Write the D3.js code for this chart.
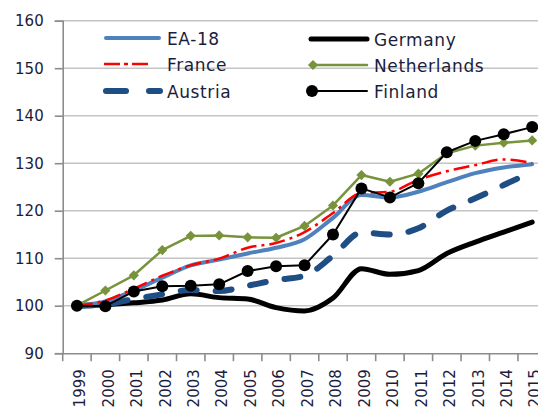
<!DOCTYPE html>
<head>
<style>
	body{
		margin: 0;
		background: white;
	}
	svg{
		display: block;
	}
</style>
</head>
<body>
<script src="https://cdn.jsdelivr.net/npm/d3@7/dist/d3.min.js" charset="utf-8"></script>
<svg width="538" height="412"></svg>
<script>
	var years = ["1999","2000","2001","2002","2003","2004","2005","2006","2007","2008","2009","2010","2011","2012","2013","2014","2015"];
	var yTicks = [90,100,110,120,130,140,150,160];

	var ea18 = [100,100.9,103.2,105.9,108.5,109.7,111,112.2,114,118.5,123.3,122.8,124,126,127.9,129.1,129.8];
	var france = [100,101.1,103.6,106.3,108.5,109.9,112.2,113.2,115.5,119.5,123.7,124,126.5,128.3,129.6,130.8,130];
	var austria = [100,100.3,101.4,102.4,103.3,103.1,104.2,105.4,106.3,110.5,115.4,115,116.3,120,122.6,125.4,128.2];
	var germany = [100,100.2,100.6,101.2,102.5,101.7,101.4,99.6,98.9,101.6,107.8,106.6,107.4,111,113.4,115.5,117.6];
	var netherlands = [100,103.2,106.4,111.7,114.7,114.8,114.4,114.3,116.8,121.1,127.5,126.1,127.8,132.1,133.7,134.3,134.8];
	var finland = [100,99.9,103,104.1,104.2,104.5,107.3,108.3,108.5,115,124.7,122.8,125.8,132.3,134.7,136.1,137.6];

	var svg = d3.select("svg");
	var x = d3.scaleBand().domain(years).range([62.7,546.4]);
	var y = d3.scaleLinear().domain([90,160]).range([353.2,20.7]);
	var cx = function(d,i){ return x(years[i]) + x.bandwidth()/2; };
	var txtCol = "#1c1c3c";

	// grid
	svg.append("g").selectAll("line").data(yTicks.slice(1)).enter().append("line")
		.attr("x1",62.7).attr("x2",538)
		.attr("y1",function(d){ return y(d); }).attr("y2",function(d){ return y(d); })
		.attr("stroke","#c4c4c4").attr("stroke-width",1.6);

	// y axis
	var yAxis = svg.append("g").attr("transform","translate(62.7,0)")
		.call(d3.axisLeft(y).tickValues(yTicks).tickSize(8).tickPadding(11));
	yAxis.select(".domain").attr("stroke","#8c8c8c").attr("stroke-width",1.6);
	yAxis.selectAll(".tick line").attr("stroke","#8c8c8c").attr("stroke-width",1.6);
	yAxis.selectAll("text").attr("fill",txtCol).style("font","15px 'DejaVu Sans'");

	// x axis
	var xAxis = svg.append("g").attr("transform","translate(0,353.2)")
		.call(d3.axisBottom(x).tickSize(0).tickPadding(0));
	xAxis.select(".domain").attr("stroke","#8c8c8c").attr("stroke-width",1.6);
	xAxis.selectAll("text")
		.attr("fill",txtCol).style("font","15px 'DejaVu Sans'")
		.attr("transform","rotate(-90)")
		.attr("x",-16).attr("y",3).attr("dy","0.35em")
		.style("text-anchor","end");
	xAxis.selectAll(".edge").data(years).enter().append("line")
		.attr("class","edge")
		.attr("x1",function(d){ return x(d); }).attr("x2",function(d){ return x(d); })
		.attr("y1",0).attr("y2",8)
		.attr("stroke","#8c8c8c").attr("stroke-width",1.6);

	function DrawLine(vals, col, w, dash, curve){
		var line = d3.line().x(cx).y(function(d){ return y(d); }).curve(curve || d3.curveLinear);
		svg.append("path").datum(vals)
			.attr("d",line)
			.attr("fill","none")
			.attr("stroke",col)
			.attr("stroke-width",w)
			.attr("stroke-linejoin","round")
			.attr("stroke-linecap",dash ? "butt" : "round")
			.attr("stroke-dasharray",dash || null);
	};

	DrawLine(germany,"#000",5,null,d3.curveMonotoneX);
	var aus = d3.line().x(cx).y(function(d){ return y(d); }).curve(d3.curveMonotoneX);
	svg.append("path").datum(austria).attr("d",aus).attr("fill","none")
		.attr("stroke","#1f4e85").attr("stroke-width",6).attr("stroke-linecap","round")
		.attr("stroke-dasharray","16,19");
	DrawLine(ea18,"#4f81bd",4,null,d3.curveMonotoneX);
	DrawLine(france,"#ff0000",2.5,"16,5,3,5",d3.curveMonotoneX);
	DrawLine(netherlands,"#77933c",2.5);
	svg.append("g").selectAll("path").data(netherlands).enter().append("path")
		.attr("d",d3.symbol().type(d3.symbolSquare).size(52))
		.attr("transform",function(d,i){ return "translate(" + cx(d,i) + "," + y(d) + ") rotate(45)"; })
		.attr("fill","#77933c");
	DrawLine(finland,"#000",2);
	svg.append("g").selectAll("circle").data(finland).enter().append("circle")
		.attr("cx",cx).attr("cy",function(d){ return y(d); })
		.attr("r",6).attr("fill","#000");

	// legend
	var leg = svg.append("g").style("font","17px 'DejaVu Sans'").style("letter-spacing","0.6px").attr("fill",txtCol);
	function LegLine(x1,x2,yy,col,w,dash,cap){
		leg.append("line").attr("x1",x1).attr("x2",x2).attr("y1",yy).attr("y2",yy)
			.attr("stroke",col).attr("stroke-width",w)
			.attr("stroke-linecap",cap || "round")
			.attr("stroke-dasharray",dash || null);
	};
	LegLine(106,159,38,"#4f81bd",4);
	LegLine(104,152,64,"#ff0000",2.5,"16,4,4,4","butt");
	LegLine(106,160,91,"#1f4e85",6,"20,23");
	LegLine(311,367,39,"#000",5);
	LegLine(311,367,65,"#77933c",2.5);
	leg.append("path").attr("d",d3.symbol().type(d3.symbolSquare).size(52))
		.attr("transform","translate(313,65) rotate(45)").attr("fill","#77933c");
	LegLine(311,367,91,"#000",2);
	leg.append("circle").attr("cx",312).attr("cy",91).attr("r",6).attr("fill","#000");

	var legText = [["EA-18",167,45],["France",167,71],["Austria",167,98],["Germany",374,46],["Netherlands",374,72],["Finland",374,98]];
	leg.selectAll("text").data(legText).enter().append("text")
		.attr("x",function(d){ return d[1]; }).attr("y",function(d){ return d[2]; })
		.text(function(d){ return d[0]; });
</script>
</body>
</html>
